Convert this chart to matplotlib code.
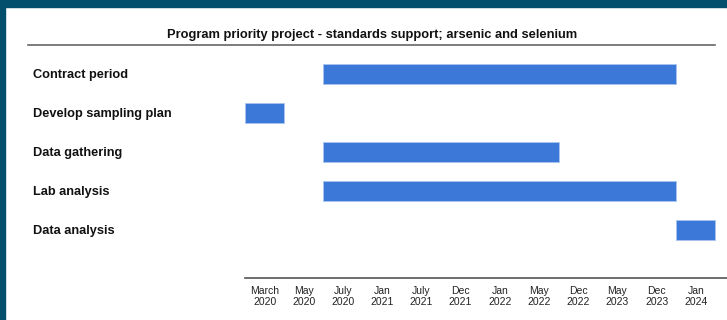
import matplotlib.pyplot as plt
import matplotlib.transforms as mtransforms
from matplotlib.patches import Rectangle
from matplotlib.lines import Line2D

plt.rcParams['font.family'] = ['Liberation Sans', 'DejaVu Sans']

periods = ["March\n2020", "May\n2020", "July\n2020", "Jan\n2021", "July\n2021",
           "Dec\n2021", "Jan\n2022", "May\n2022", "Dec\n2022", "May\n2023",
           "Dec\n2023", "Jan\n2024"]
tasks = ["Contract period", "Develop sampling plan", "Data gathering",
         "Lab analysis", "Data analysis"]
# first and last period covered by each task
start_period = ["July\n2020", "March\n2020", "July\n2020", "July\n2020", "Jan\n2024"]
end_period = ["Dec\n2023", "March\n2020", "May\n2022", "Dec\n2023", "Jan\n2024"]

W, H = 727, 320
fig = plt.figure(figsize=(W / 100, H / 100), dpi=100)

# frame around the panel
fig.patches.append(Rectangle((0, 1 - 7 / H), 1, 7 / H, transform=fig.transFigure,
                             color="#024f6d", zorder=0))
fig.patches.append(Rectangle((0, 0), 5 / W, 1, transform=fig.transFigure,
                             color="#024f6d", zorder=0))

ax = fig.add_axes([245 / W, 1 - 278 / H, (W - 245) / W, (278 - 50) / H])

for i, task in enumerate(tasks):
    s = periods.index(start_period[i])
    e = periods.index(end_period[i])
    ax.barh(i, e - s + 1, left=s, height=0.51, color="#3c78d8",
            edgecolor="#a9c4ee", linewidth=0.6)

ax.set_xlim(0, (W - 245) / 39.2)
ax.set_ylim(5.23, -0.615)
ax.set_xticks([i + 0.5 for i in range(len(periods))])
ax.set_xticklabels(periods, fontsize=7.5, color="#222222", linespacing=1.05)
ax.tick_params(axis="x", length=0, pad=6)
ax.set_yticks([])
for side in ["top", "right", "left"]:
    ax.spines[side].set_visible(False)
ax.spines["bottom"].set_color("#555555")
ax.spines["bottom"].set_linewidth(1.2)

lab_tr = mtransforms.blended_transform_factory(fig.transFigure, ax.transData)
for i, task in enumerate(tasks):
    ax.text(33 / W, i + 0.02, task, transform=lab_tr, ha="left", va="center",
            fontsize=9.2, fontweight="bold", color="#111111")

fig.text(372 / W, 1 - 35 / H, "Program priority project - standards support; arsenic and selenium",
         ha="center", va="center", fontsize=9.3, fontweight="bold", color="#111111")
fig.lines.append(Line2D([28 / W, 715 / W], [1 - 45 / H, 1 - 45 / H],
                        transform=fig.transFigure, color="#666666", linewidth=1.2))

fig.savefig("out.png", dpi=100)
